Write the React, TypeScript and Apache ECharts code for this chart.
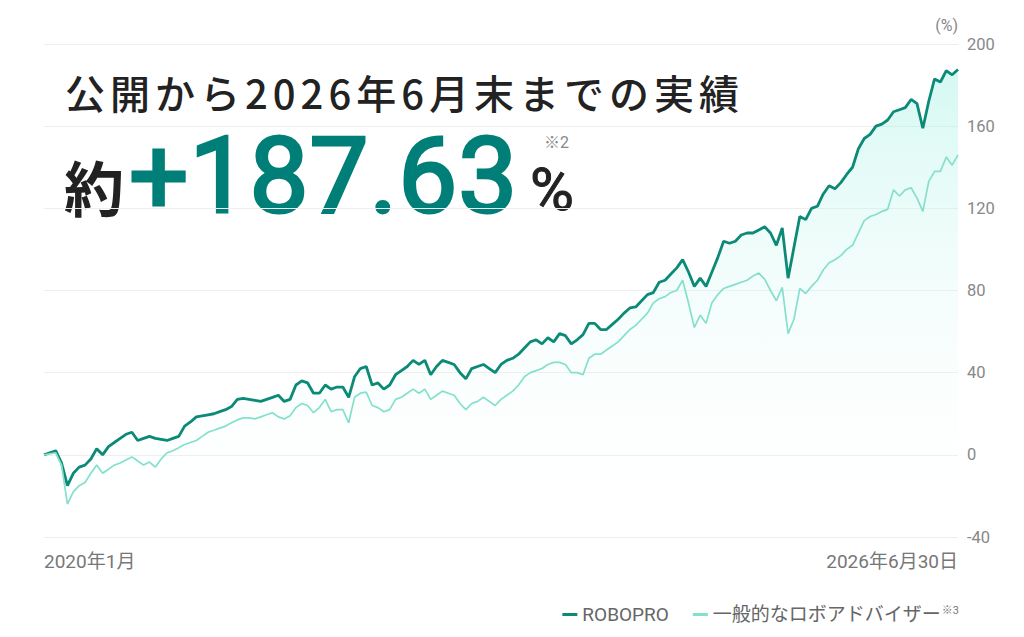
import * as echarts from 'echarts';
import { useEffect, useRef } from 'react';

// 半月ごとの日付（2020年1月〜2026年6月30日）
const dates: string[] = [];
for (let y = 2020; y <= 2026; y++) {
  for (let m = 1; m <= 12; m++) {
    if (y === 2026 && m > 6) break;
    const mm = String(m).padStart(2, '0');
    dates.push(`${y}-${mm}-01`, `${y}-${mm}-16`);
  }
}
dates.push('2026-06-30');

const seriesNames = ['ROBOPRO', '一般的なロボアドバイザー'];

// ROBOPRO 累積リターン (%)
const roboPro = [
  0, 1, 2, -4, -15, -9, -6, -5, -2, 3,
  0, 4, 6, 8, 10, 11, 7, 8, 9, 8,
  7.5, 7, 8, 9, 14, 16, 18.5, 19, 19.5, 20,
  21, 22, 23.5, 27, 27.5, 27, 26.5, 26, 27, 28,
  29, 26, 27, 34, 36, 35, 30, 30, 34, 32,
  33, 33, 28, 38, 42, 43, 34, 35, 32, 34,
  39, 41, 43, 46, 44, 46, 39, 43, 46, 45,
  44, 40, 37, 42, 43, 44, 42, 40, 44, 46,
  47, 49, 52, 55, 56, 54, 57, 55, 59, 58,
  54, 56, 58.5, 64, 64, 61, 61, 63.5, 66, 69,
  71.5, 72, 75, 78, 79, 84, 85, 88, 91, 95,
  89, 82, 86, 82, 89, 96, 104, 103, 104, 107,
  108, 108, 109.5, 111, 108, 102, 110.5, 86, 101, 116,
  114.5, 120, 121, 127, 131, 129.5, 132.5, 136.5, 140, 149,
  154, 156, 160, 161, 163, 167, 168, 169, 173, 171,
  159, 172, 183, 181.5, 187, 185, 187.63,
];

// 一般的なロボアドバイザー 累積リターン (%)
const advisor = [
  0, 0.5, 1, -5, -24, -18, -15, -13.5, -9, -5,
  -9, -7, -5, -4, -2.5, -1, -3, -5, -3.5, -6,
  -2, 1, 2, 3.4, 5, 6, 7, 9, 11, 12,
  13, 14, 15.6, 17, 18, 18, 17.5, 18.5, 19.5, 20.5,
  18.5, 17.5, 19, 23, 25, 24, 20.5, 23, 27, 21,
  22, 22, 15.6, 28, 30, 30.5, 24, 23, 21, 22,
  27, 28, 30, 32, 30, 32, 27, 29, 31, 30,
  29, 25, 22, 25, 26, 28, 26, 24, 27, 29,
  31, 34, 38, 40, 41, 42, 44, 45, 45, 44,
  40, 40, 39, 47, 49, 49, 51, 53, 55, 58,
  61, 63, 66, 69, 74, 76, 77, 79, 80, 85,
  74, 62, 68, 64, 74, 78, 81, 82, 83, 84,
  85, 87, 88.5, 85.5, 80, 75, 81.5, 59, 66, 81,
  78.5, 82, 85, 90, 93.5, 95, 97, 100, 102, 108,
  114, 116, 117, 118.5, 119.5, 129, 126, 129, 130, 125,
  118.5, 133, 138, 138, 145, 141, 146,
];

const yMin = -40;
const yMax = 200;
const yStep = 40;

const fontFamily = "Roboto, 'Noto Sans CJK JP', sans-serif";
const jpFont = "'Noto Sans CJK JP', sans-serif";

export default function App() {
  const container = useRef<HTMLDivElement | null>(null);

  useEffect(() => {
    if (!container.current) return;
    const chart = echarts.init(container.current, undefined, { renderer: 'svg' });
    const last = dates.length - 1;

    chart.setOption({
      animation: false,
      backgroundColor: '#ffffff',
      textStyle: { fontFamily },
      grid: { left: 44, right: 66, top: 44, bottom: 100 },
      legend: {
        data: seriesNames,
        right: 60,
        top: 600,
        icon: 'rect',
        itemWidth: 15,
        itemHeight: 3,
        itemGap: 24,
        formatter: (name: string) =>
          name === seriesNames[1] ? `{n|${name}}{s|※3}` : `{n|${name}}`,
        textStyle: {
          color: '#666',
          fontSize: 19,
          rich: {
            n: { fontSize: 19, color: '#666', fontFamily },
            s: { fontSize: 11, color: '#777', verticalAlign: 'top', padding: [0, 0, 8, 1] },
          },
        },
      },
      xAxis: {
        type: 'category',
        data: dates,
        boundaryGap: false,
        axisLine: { show: false },
        axisTick: { show: false },
        splitLine: { show: false },
        axisLabel: {
          interval: (i: number) => i === 0 || i === last,
          formatter: (v: string, i: number) => {
            const [y, m, d] = v.split('-').map(Number);
            return i === last ? `${y}年${m}月${d}日` : `${y}年${m}月`;
          },
          alignMinLabel: 'left',
          alignMaxLabel: 'right',
          color: '#777',
          fontSize: 19,
          margin: 15,
        },
      },
      yAxis: {
        type: 'value',
        position: 'right',
        min: yMin,
        max: yMax,
        interval: yStep,
        name: '(%)',
        nameLocation: 'end',
        nameGap: 19,
        nameTextStyle: { color: '#888', fontSize: 16, align: 'right', verticalAlign: 'middle' },
        axisLine: { show: false },
        axisTick: { show: false },
        axisLabel: { color: '#888', fontSize: 16.5, margin: 9 },
        splitLine: { lineStyle: { color: '#eeeeee', width: 1 } },
      },
      graphic: [
        {
          type: 'text',
          x: 65,
          y: 92,
          style: {
            text: '公開から2026年6月末までの実績',
            fill: '#222',
            fontSize: 40,
            fontWeight: 500,
            fontFamily: jpFont,
            align: 'left',
            verticalAlign: 'middle',
          },
        },
        {
          type: 'text',
          x: 64,
          y: 185,
          style: {
            text: '約',
            fill: '#222',
            fontSize: 60,
            fontWeight: 'bold',
            fontFamily: jpFont,
            align: 'left',
            verticalAlign: 'middle',
          },
        },
        {
          type: 'text',
          x: 129,
          y: 176,
          style: {
            text: '+187.63',
            fill: '#007f78',
            stroke: '#007f78',
            lineWidth: 3,
            fontSize: 105,
            fontWeight: 'normal',
            fontFamily: 'Roboto, sans-serif',
            align: 'left',
            verticalAlign: 'middle',
          },
        },
        {
          type: 'text',
          x: 530,
          y: 189,
          style: {
            text: '%',
            fill: '#222',
            stroke: '#222',
            lineWidth: 1,
            fontSize: 60,
            fontWeight: 'normal',
            fontFamily: 'Roboto, sans-serif',
            align: 'left',
            verticalAlign: 'middle',
          },
        },
        {
          type: 'text',
          x: 544,
          y: 142,
          style: {
            text: '※2',
            fill: '#888',
            fontSize: 16,
            fontFamily,
            align: 'left',
            verticalAlign: 'middle',
          },
        },
      ],
      series: [
        {
          name: seriesNames[0],
          type: 'line',
          data: roboPro,
          showSymbol: false,
          symbol: 'none',
          lineStyle: { color: '#0b8a77', width: 2.8 },
          itemStyle: { color: '#0b8a77' },
          areaStyle: {
            origin: 'start',
            color: new echarts.graphic.LinearGradient(0, 0, 0, 1, [
              { offset: 0, color: 'rgba(160,240,226,0.62)' },
              { offset: 1, color: 'rgba(255,255,255,0)' },
            ]),
          },
          z: 2,
        },
        {
          name: seriesNames[1],
          type: 'line',
          data: advisor,
          showSymbol: false,
          symbol: 'none',
          lineStyle: { color: '#84e0cd', width: 1.7 },
          itemStyle: { color: '#84e0cd' },
          z: 3,
        },
      ],
    } as echarts.EChartsOption);

    return () => {
      chart.dispose();
    };
  }, []);

  return (
    <>
      <style>
        {'text[style*="40px"]{letter-spacing:5px}text[style*="105px"]{letter-spacing:1px}'}
      </style>
      <div
        ref={container}
        style={{ position: 'fixed', left: 0, top: 0, width: 1024, height: 637, background: '#fff' }}
      />
    </>
  );
}
